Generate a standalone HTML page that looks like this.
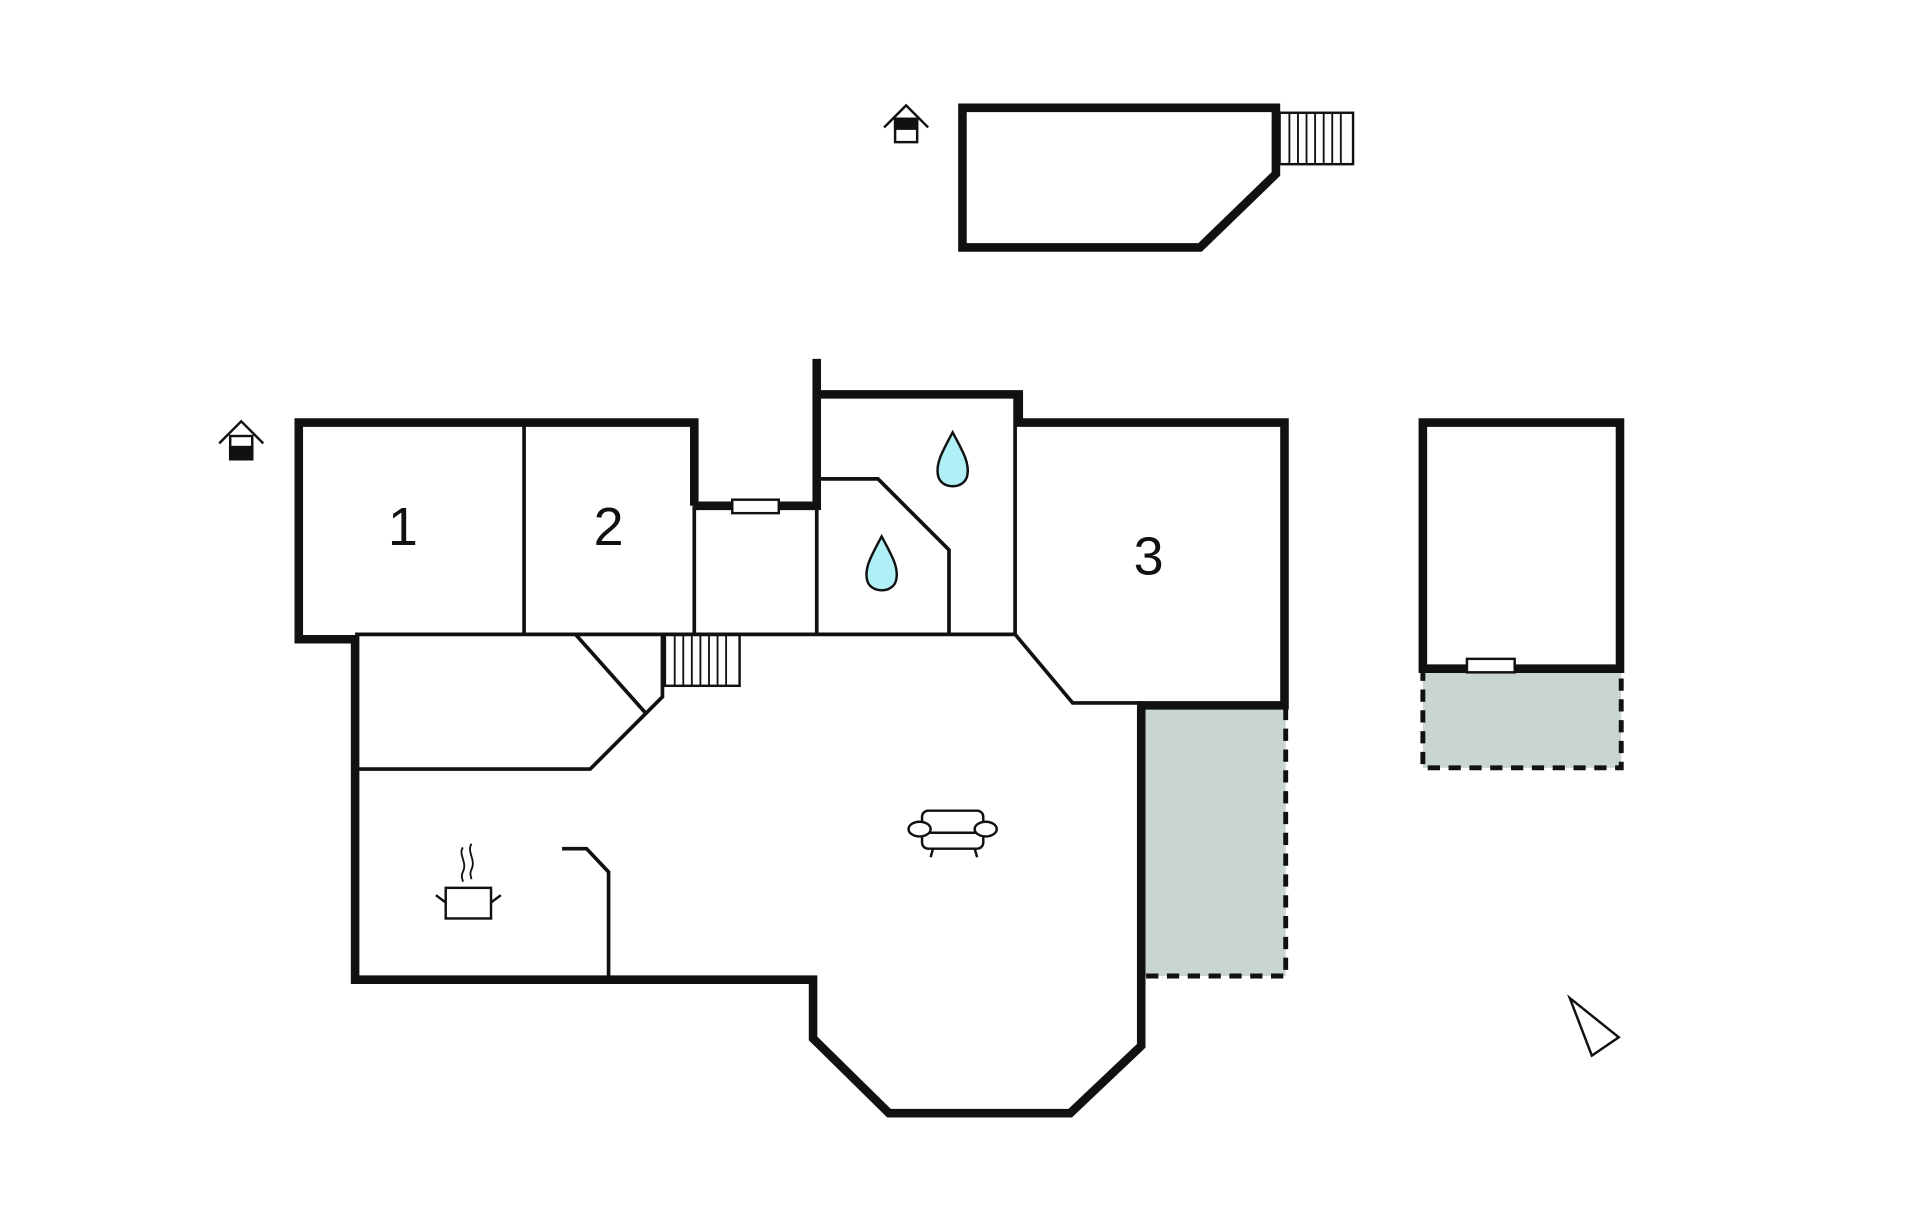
<!DOCTYPE html>
<html><head><meta charset="utf-8"><style>html,body{margin:0;padding:0;background:#fff}svg{display:block}</style></head>
<body>
<svg width="1920" height="1221" viewBox="0 0 1568 997" xmlns="http://www.w3.org/2000/svg">
<g fill="none" stroke="#111" stroke-linejoin="miter">
<!-- terraces -->
<rect x="934" y="578" width="116" height="219" fill="#c9d5d3" stroke="none"/>
<path d="M1050 578 V797 H934" stroke-width="4" stroke-dasharray="10,7"/>
<rect x="1162" y="546" width="162" height="81" fill="#c9d5d3" stroke="none"/>
<path d="M1162 546 V627 H1324 V546" stroke-width="4" stroke-dasharray="10,7"/>

<!-- top building -->
<path d="M786 88 H1042 V142 L980 202 H786 Z" stroke-width="7"/>
<rect x="1045" y="92" width="60" height="42" stroke-width="2"/>
<path d="M1053 92V134M1060 92V134M1067 92V134M1074 92V134M1081 92V134M1088 92V134M1095 92V134" stroke-width="1.5"/>

<!-- main building thick walls -->
<path d="M567 413 V345 H244 V522 H290 V800 H664 V848 L726 909 H874 L932 854 V576 H1049 V345 H832 V322 H667 V293" stroke-width="7"/>
<path d="M567 413 H667 V322" stroke-width="7"/>
<!-- thin walls -->
<path d="M428 345 V518 M567 413 V518 M667 413 V518 M829 322 V518 M290 518 H829 M669 391 H717 L775 449 V518 M829 518 L876 574 H932 M290 628 H482 L541 569 V518 M470 518 L527 582 M459 693 H479 L497 712 V798" stroke-width="3"/>
<rect x="598" y="408" width="38" height="11" fill="#fff" stroke-width="2"/>
<rect x="543" y="518" width="61" height="42" stroke-width="2"/>
<path d="M551 518V560M558 518V560M565 518V560M572 518V560M579 518V560M586 518V560M593 518V560" stroke-width="1.5"/>

<!-- right building -->
<path d="M1162 546 V345 H1323 V546 Z" stroke-width="7"/>
<rect x="1198" y="538" width="39" height="11" fill="#fff" stroke-width="2"/>

<!-- compass -->
<path d="M1282 815 L1322 847 L1300 862 Z" stroke-width="2"/>

<!-- drops -->
<path d="M778 353 C770 368 764 378 766 388 C768 400 788 400 790 388 C792 378 786 368 778 353 Z" fill="#aef0f5" stroke-width="2"/>
<path d="M720 438 C712 453 706 463 708 473 C710 485 730 485 732 473 C734 463 728 453 720 438 Z" fill="#aef0f5" stroke-width="2"/>

<!-- sofa -->
<g stroke-width="2">
<rect x="753" y="662" width="50" height="31" rx="5" fill="#fff"/>
<path d="M755 680 H801"/>
<ellipse cx="751" cy="677" rx="9" ry="6" fill="#fff"/>
<ellipse cx="805" cy="677" rx="9" ry="6" fill="#fff"/>
<path d="M762 693 L760 700 M796 693 L798 700"/>
</g>
<!-- pot -->
<g stroke-width="2">
<rect x="364" y="725" width="37" height="25" fill="#fff"/>
<path d="M364 737 L356 731 M401 737 L409 731"/>
<path d="M378 692 C374 698 382 704 378 712 C376 716 378 718 378 720 M385 689 C381 696 389 702 385 710 C383 714 385 716 385 718" stroke-width="1.5"/>
</g>
<!-- house icons -->
<g stroke-width="2">
<path d="M722 104 L740 86 L758 104"/>
<rect x="731" y="97" width="18" height="19" fill="#fff"/>
<rect x="731" y="97" width="18" height="8" fill="#111"/>
<path d="M179 362 L197 344 L215 362"/>
<rect x="188" y="356" width="18" height="19" fill="#fff"/>
<rect x="188" y="365" width="18" height="10" fill="#111"/>
</g>
</g>
<g font-family="Liberation Sans, sans-serif" font-size="44" fill="#111" text-anchor="middle">
<text x="329" y="445">1</text>
<text x="497" y="445">2</text>
<text x="938" y="469">3</text>
</g>
</svg>
</body></html>
